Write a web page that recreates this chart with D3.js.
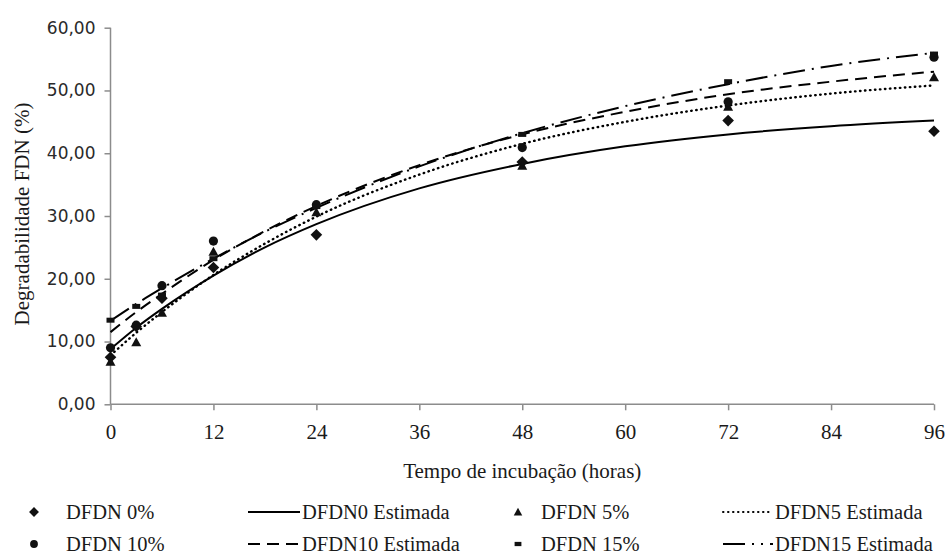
<!DOCTYPE html>
<html>
<head>
<meta charset="utf-8">
<script src="https://cdn.jsdelivr.net/npm/d3@7"></script>
<style>
  html, body { margin: 0; padding: 0; background: #fff; }
  svg { display: block; }
</style>
</head>
<body>
<svg id="chart" width="945" height="556"></svg>
<script>
// ---- data ----
const hours = [0, 3, 6, 12, 24, 48, 72, 96];
const dfdn0  = [7.5, 12.4, 16.9, 21.8, 27.0, 38.6, 45.2, 43.5];
const dfdn5  = [6.8, 9.9, 14.6, 24.3, 30.6, 38.0, 47.4, 52.1];
const dfdn10 = [9.0, 12.6, 18.9, 26.0, 31.8, 40.9, 48.2, 55.3];
const dfdn15 = [13.4, 15.6, 17.4, 23.2, 31.5, 43.0, 51.4, 55.8];

const curveHours = [0, 3, 6, 12, 18, 24, 36, 48, 60, 72, 84, 96];
const est0  = [8.8, 12.2, 15.2, 20.5, 25.0, 28.7, 34.4, 38.3, 41.1, 43.0, 44.3, 45.2];
const est5  = [7.8, 11.4, 14.7, 20.6, 25.6, 29.9, 36.6, 41.5, 45.0, 47.6, 49.5, 50.8];
const est10 = [11.5, 14.7, 17.6, 23.0, 27.6, 31.6, 38.1, 43.0, 46.6, 49.4, 51.4, 53.0];
const est15 = [13.3, 16.0, 18.5, 23.2, 27.5, 31.3, 37.9, 43.2, 47.5, 51.0, 53.9, 56.0];

const xTicks = [0, 12, 24, 36, 48, 60, 72, 84, 96];
const yTicks = [0, 10, 20, 30, 40, 50, 60];
const yTickLabels = ["0,00", "10,00", "20,00", "30,00", "40,00", "50,00", "60,00"];

const pointNames = ["DFDN 0%", "DFDN 5%", "DFDN 10%", "DFDN 15%"];
const curveNames = ["DFDN0 Estimada", "DFDN5 Estimada", "DFDN10 Estimada", "DFDN15 Estimada"];
const xTitle = "Tempo de incubação (horas)";
const yTitle = "Degradabilidade FDN (%)";

// ---- styles ----
const serif = "'Liberation Serif', 'Times New Roman', serif";
const sans = "'DejaVu Sans', Tahoma, sans-serif";
const markerKinds = ["diamond", "triangle", "circle", "rect"];
const dashes = [null, "0.5,4.5", "12,7", "22,7,2,7"];
const axisColor = "#8c8c8c";

const svg = d3.select("#chart");
const x = d3.scaleLinear().domain([0, 96]).range([110.5, 934]);
const y = d3.scaleLinear().domain([0, 60]).range([404.3, 27.7]);

// ---- axes ----
const yAxis = svg.append("g").attr("transform", `translate(${x(0)},0)`)
  .call(d3.axisLeft(y).tickValues(yTicks).tickSize(6).tickPadding(9)
        .tickFormat((d, i) => yTickLabels[i]));
yAxis.select(".domain").attr("stroke", axisColor).attr("stroke-width", 1.5).attr("d", `M0,${y(60)}V${y(0)}`);
yAxis.selectAll(".tick line").attr("stroke", axisColor).attr("stroke-width", 1.5);
yAxis.selectAll(".tick text").attr("font-family", sans).attr("font-size", 17).attr("fill", "#2a2a2a");

const xAxis = svg.append("g").attr("transform", `translate(0,${y(0)})`)
  .call(d3.axisBottom(x).tickValues(xTicks).tickSize(6).tickPadding(14).tickFormat(d3.format("d")));
xAxis.select(".domain").attr("stroke", axisColor).attr("stroke-width", 1.5).attr("d", `M${x(0)},0H${x(96)}`);
xAxis.selectAll(".tick line").attr("stroke", axisColor).attr("stroke-width", 1.5);
xAxis.selectAll(".tick text").attr("font-family", serif).attr("font-size", 21).attr("fill", "#1a1a1a");

// titles
svg.append("text").attr("x", (x(0) + x(96)) / 2).attr("y", 478)
  .attr("text-anchor", "middle").attr("font-family", serif).attr("font-size", 21)
  .attr("fill", "#1a1a1a").text(xTitle);
svg.append("text").attr("transform", "translate(29,214) rotate(-90)")
  .attr("text-anchor", "middle").attr("font-family", serif).attr("font-size", 21)
  .attr("fill", "#1a1a1a").text(yTitle);

// ---- marker helper ----
function drawMarker(g, kind, cx, cy, s) {
  s = s || 1;
  if (kind === "diamond") {
    const r = 5.8 * s;
    g.append("path").attr("d", `M${cx},${cy - r}L${cx + r},${cy}L${cx},${cy + r}L${cx - r},${cy}Z`).attr("fill", "#111");
  } else if (kind === "triangle") {
    const h = 9 * s, w = 5 * s;
    g.append("path").attr("d", `M${cx},${cy - h * 0.55}L${cx + w},${cy + h * 0.45}L${cx - w},${cy + h * 0.45}Z`).attr("fill", "#111");
  } else if (kind === "circle") {
    g.append("circle").attr("cx", cx).attr("cy", cy).attr("r", 4.6 * s).attr("fill", "#111");
  } else {
    g.append("rect").attr("x", cx - 4 * s).attr("y", cy - 2.5 * s).attr("width", 8 * s).attr("height", 5 * s).attr("fill", "#111");
  }
}

// ---- curves ----
const estSeries = [est0, est5, est10, est15];
const line = d3.line().x(d => x(d[0])).y(d => y(d[1])).curve(d3.curveMonotoneX);
const curveG = svg.append("g");
estSeries.forEach((vals, i) => {
  const p = curveG.append("path")
    .datum(curveHours.map((h, j) => [h, vals[j]]))
    .attr("d", line).attr("fill", "none").attr("stroke", "#000")
    .attr("stroke-width", i === 1 ? 2.4 : 2);
  if (dashes[i]) p.attr("stroke-dasharray", dashes[i]);
  if (i === 1) p.attr("stroke-linecap", "round");
});

// ---- points ----
const pointSeries = [dfdn0, dfdn5, dfdn10, dfdn15];
const pointG = svg.append("g");
pointSeries.forEach((vals, i) => {
  hours.forEach((h, j) => drawMarker(pointG, markerKinds[i], x(h), y(vals[j]), 1));
});

// ---- legend ----
const legRows = [512, 544];
const legTextDy = 6.5;
const legend = svg.append("g");
const legendItems = [
  {type: "pt", idx: 0, row: 0, mx: 34, tx: 66},
  {type: "ln", idx: 0, row: 0, x1: 248, x2: 302},
  {type: "pt", idx: 1, row: 0, mx: 518, tx: 541},
  {type: "ln", idx: 1, row: 0, x1: 723, x2: 775},
  {type: "pt", idx: 2, row: 1, mx: 34, tx: 66},
  {type: "ln", idx: 2, row: 1, x1: 248, x2: 302},
  {type: "pt", idx: 3, row: 1, mx: 518, tx: 541},
  {type: "ln", idx: 3, row: 1, x1: 723, x2: 775}
];
legendItems.forEach(it => {
  const cy = legRows[it.row];
  if (it.type === "pt") {
    drawMarker(legend, markerKinds[it.idx], it.mx, cy, 0.85);
    legend.append("text").attr("x", it.tx).attr("y", cy + legTextDy)
      .attr("font-family", serif).attr("font-size", 20.5).attr("fill", "#1a1a1a")
      .text(pointNames[it.idx]);
  } else {
    const l = legend.append("line").attr("x1", it.x1).attr("x2", it.x2 - 2)
      .attr("y1", cy).attr("y2", cy).attr("stroke", "#000").attr("stroke-width", 2);
    if (it.idx === 1) l.attr("stroke-linecap", "round").attr("stroke-dasharray", "0.5,4.5").attr("stroke-width", 2);
    else if (it.idx === 2) l.attr("stroke-dasharray", "12,7");
    else if (it.idx === 3) l.attr("stroke-dasharray", "22,7,2,7,2,7");
    legend.append("text").attr("x", it.x2).attr("y", cy + legTextDy)
      .attr("font-family", serif).attr("font-size", 20.5).attr("fill", "#1a1a1a")
      .text(curveNames[it.idx]);
  }
});
</script>
</body>
</html>
